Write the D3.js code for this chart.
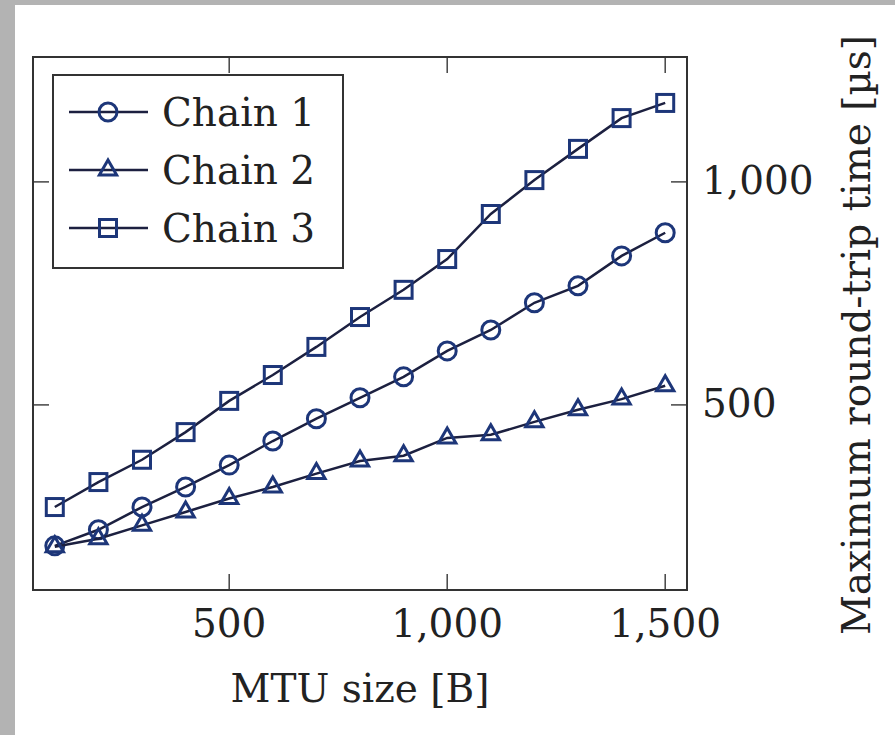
<!DOCTYPE html>
<meta charset="utf-8">
<style>
  body { margin: 0; background: #b3b3b3; }
  svg { display: block; }
  text { font-family: "DejaVu Serif", "Liberation Serif", serif; fill: #222; }
</style>
<body>
<svg width="895" height="735"></svg>
<script src="https://cdn.jsdelivr.net/npm/d3@7/dist/d3.min.js"></script>
<script>

    // MTU sizes (B)
    var mtu = [100, 200, 300, 400, 500, 600, 700, 800, 900, 1000, 1100, 1200, 1300, 1400, 1500];

    // maximum round-trip time (us)
    var chain1 = [184, 220, 271, 316, 365, 419, 469, 516, 563, 621, 668, 729, 767, 834, 886];
    var chain2 = [182, 200, 230, 260, 290, 316, 346, 374, 386, 426, 433, 462, 489, 513, 543];
    var chain3 = [271, 327, 377, 439, 509, 567, 630, 697, 758, 827, 928, 1004, 1074, 1143, 1177];

    var seriesNames = ["Chain 1", "Chain 2", "Chain 3"];
    var markers = ["circle", "triangle", "square"];
    var xTicks = [500, 1000, 1500];
    var yTicks = [500, 1000];

    var lineColor = "#1c2040",
        markColor = "#1d3679",
        frameColor = "#333";

    var fontSize = 39;

    var svg = d3.select("svg");

    // white sheet with grey strip on left / top
    svg.append("rect")
        .attr("x", 15).attr("y", 5)
        .attr("width", 880).attr("height", 730)
        .attr("fill", "#fff");

    var plot = {left: 33, top: 57, right: 687, bottom: 590};

    var x = d3.scaleLinear().domain([50, 1550]).range([plot.left, plot.right]);
    var y = d3.scaleLinear().domain([85, 1280]).range([plot.bottom, plot.top]);

    var fmt = d3.format(",");
    var tickLen = 16;

    var g = svg.append("g");

    // ticks (inside, both sides)
    xTicks.forEach(function (t) {
        g.append("line")
            .attr("x1", x(t)).attr("x2", x(t))
            .attr("y1", plot.bottom).attr("y2", plot.bottom - tickLen)
            .attr("stroke", "#444").attr("stroke-width", 1.5);
        g.append("line")
            .attr("x1", x(t)).attr("x2", x(t))
            .attr("y1", plot.top).attr("y2", plot.top + tickLen)
            .attr("stroke", "#444").attr("stroke-width", 1.5);
        g.append("text")
            .attr("x", x(t)).attr("y", 637)
            .attr("text-anchor", "middle")
            .attr("font-size", fontSize)
            .text(fmt(t));
    });

    yTicks.forEach(function (t) {
        g.append("line")
            .attr("x1", plot.left).attr("x2", plot.left + tickLen)
            .attr("y1", y(t)).attr("y2", y(t))
            .attr("stroke", "#444").attr("stroke-width", 1.5);
        g.append("line")
            .attr("x1", plot.right).attr("x2", plot.right - tickLen)
            .attr("y1", y(t)).attr("y2", y(t))
            .attr("stroke", "#444").attr("stroke-width", 1.5);
        g.append("text")
            .attr("x", 702).attr("y", y(t))
            .attr("dy", "0.3em")
            .attr("font-size", fontSize)
            .text(fmt(t));
    });

    // frame
    g.append("rect")
        .attr("x", plot.left).attr("y", plot.top)
        .attr("width", plot.right - plot.left)
        .attr("height", plot.bottom - plot.top)
        .attr("fill", "none")
        .attr("stroke", frameColor)
        .attr("stroke-width", 2);

    // axis labels
    g.append("text")
        .attr("x", (plot.left + plot.right) / 2).attr("y", 702)
        .attr("text-anchor", "middle")
        .attr("font-size", fontSize)
        .text("MTU size [B]");

    g.append("text")
        .attr("transform", "translate(870,335) rotate(-90)")
        .attr("text-anchor", "middle")
        .attr("font-size", fontSize)
        .text("Maximum round-trip time [µs]");

    function drawMarker(sel, type) {
        if (type === "circle") {
            sel.append("circle").attr("r", 9);
        } else if (type === "triangle") {
            sel.append("path").attr("d", d3.symbol().type(d3.symbolTriangle).size(130)());
        } else {
            sel.append("rect").attr("x", -8.5).attr("y", -8.5).attr("width", 17).attr("height", 17);
        }
        sel.selectAll("*")
            .attr("fill", "none")
            .attr("stroke", markColor)
            .attr("stroke-width", 3);
    }

    var line = d3.line()
        .x(function (d, i) { return x(mtu[i]); })
        .y(function (d) { return y(d); });

    [chain1, chain2, chain3].forEach(function (vals, k) {
        g.append("path")
            .datum(vals)
            .attr("d", line)
            .attr("fill", "none")
            .attr("stroke", lineColor)
            .attr("stroke-width", 2.5);

        vals.forEach(function (v, i) {
            var m = g.append("g")
                .attr("transform", "translate(" + x(mtu[i]) + "," + y(v) + ")");
            drawMarker(m, markers[k]);
        });
    });

    // legend
    var legend = g.append("g");
    legend.append("rect")
        .attr("x", 53).attr("y", 75)
        .attr("width", 290).attr("height", 193)
        .attr("fill", "#fff")
        .attr("stroke", frameColor)
        .attr("stroke-width", 2);

    seriesNames.forEach(function (name, k) {
        var cy = 112 + k * 58;
        legend.append("line")
            .attr("x1", 69).attr("x2", 148)
            .attr("y1", cy).attr("y2", cy)
            .attr("stroke", lineColor)
            .attr("stroke-width", 2.5);
        var m = legend.append("g").attr("transform", "translate(108," + cy + ")");
        drawMarker(m, markers[k]);
        legend.append("text")
            .attr("x", 162).attr("y", cy)
            .attr("dy", "0.36em")
            .attr("font-size", fontSize)
            .text(name);
    });

</script>
</body>
